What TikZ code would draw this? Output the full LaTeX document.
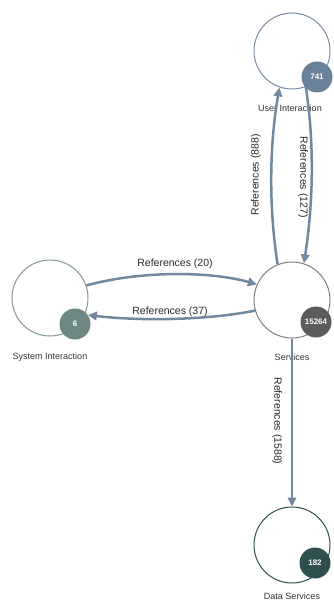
\documentclass[tikz,border=0pt]{standalone}
\usepackage{fontspec}
\setmainfont{Liberation Sans}
\usetikzlibrary{arrows.meta}
\definecolor{edgecol}{HTML}{71889F}
\definecolor{uicol}{HTML}{6A819A}
\definecolor{syscol}{HTML}{6E8782}
\definecolor{svccol}{HTML}{5B5B5B}
\definecolor{datacol}{HTML}{2F4F4F}
\definecolor{txtcol}{HTML}{333333}
\begin{document}
\begin{tikzpicture}[x=1pt,y=-1pt,
  bigcirc/.style={circle, draw=#1, line width=1pt, fill=white, minimum size=76pt, inner sep=0pt},
  badge/.style={circle, fill=#1, minimum size=31pt, inner sep=0pt, text=white, font=\bfseries\fontsize{8}{9}\selectfont},
  namelbl/.style={text=txtcol, font=\fontsize{9}{10}\selectfont, inner sep=0pt},
  edgelbl/.style={text=txtcol!80!black, font=\fontsize{10.5}{12}\selectfont, inner sep=0pt},
  link/.style={draw=edgecol, line width=2.5pt, -{Triangle[length=9pt,width=8.5pt]}}
]
\useasboundingbox (0,0) rectangle (333,607);
% main circles
\node[bigcirc=uicol!90] (ui) at (292,51) {};
\node[bigcirc=gray] (svc) at (292,300) {};
\node[bigcirc=syscol!85] (sys) at (50,298) {};
\node[bigcirc=datacol] (data) at (292,545) {};
% badges
\node[badge=uicol] (uib) at (317,77) {741};
\node[badge=svccol] (svcb) at (316,322) {15264};
\node[badge=syscol] (sysb) at (75,324) {6};
\node[badge=datacol] (datab) at (315,563) {182};
% names
\node[namelbl] (uin) at (290,108) {User Interaction};
\node[namelbl] (svcn) at (292,357) {Services};
\node[namelbl] (sysn) at (50,357) {System Interaction};
\node[namelbl] (datan) at (292,596) {Data Services};
% connectors
\draw[link] (svc.112) .. controls +(-9,-58) and +(-10,58) .. (ui.251);
\draw[link] (ui.291) .. controls +(9,58) and +(9,-58) .. (svc.72);
\draw[link] (sys.19) .. controls +(50,-14) and +(-50,-14) .. (svc.156);
\draw[link] (svc.196) .. controls +(-50,10) and +(50,6) .. (sysb.35);
\draw[link] (svc.south) -- (data.north);
% edge labels
\node[edgelbl] (l20) at (175,264) {References (20)};
\node[edgelbl] (l37) at (170,312) {References (37)};
\node[edgelbl, rotate=90] (l888) at (256,175) {References (888)};
\node[edgelbl, rotate=-90] (l127) at (303,177) {References (127)};
\node[edgelbl, rotate=-90] (l1588) at (277,421) {References (1588)};
\end{tikzpicture}
\end{document}
